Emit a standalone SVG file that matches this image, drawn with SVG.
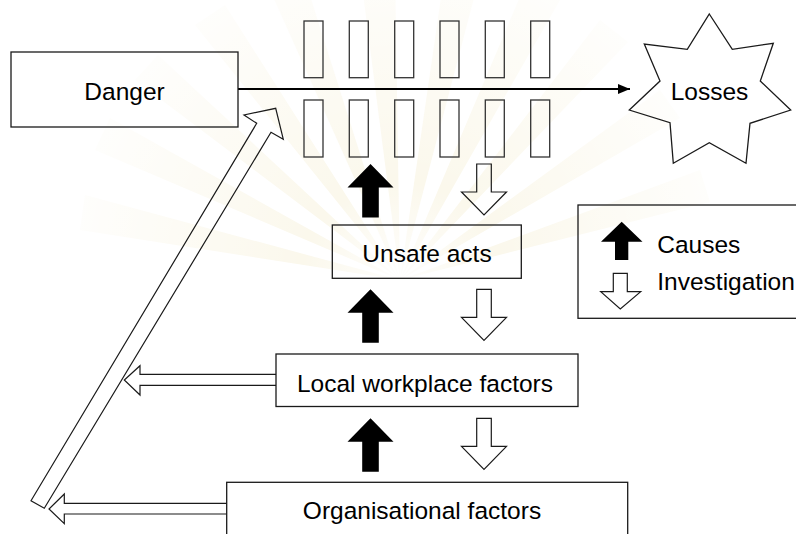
<svg xmlns="http://www.w3.org/2000/svg" width="796" height="534" viewBox="0 0 796 534">
  <style>
    .box { fill: none; stroke: #1a1a1a; stroke-width: 1.3; }
    .slot { fill: none; stroke: #333333; stroke-width: 1.3; }
    .lbl { font-family: "Liberation Sans", Arial, sans-serif; font-size: 24.5px; fill: #000000; }
    .mid { text-anchor: middle; }
    .solid { fill: #000000; stroke: none; }
    .hollow { fill: none; stroke: #1a1a1a; stroke-width: 1.2; stroke-linejoin: miter; }
    .ray { fill: #fbf8ec; }
  </style>
  <defs>
    <marker id="head" markerWidth="12" markerHeight="10" refX="12" refY="5" orient="auto" markerUnits="userSpaceOnUse">
      <path d="M0,0 L12,5 L0,10 Z" fill="#000000"/>
    </marker>
    <radialGradient id="fade" cx="400" cy="280" r="330" gradientUnits="userSpaceOnUse">
      <stop offset="0" stop-color="#ffffff" stop-opacity="0.9"/>
      <stop offset="0.3" stop-color="#ffffff" stop-opacity="0"/>
      <stop offset="1" stop-color="#ffffff" stop-opacity="0.85"/>
    </radialGradient>
    <!-- solid "cause" arrow pointing up, tip at origin -->
    <path id="up" d="M0,0 L23,23.5 L8.3,23.5 L8.3,53.5 L-8.3,53.5 L-8.3,23.5 L-23,23.5 Z"/>
    <!-- hollow "investigation" arrow pointing down, top at origin -->
    <path id="down" d="M-7.3,0 L7.3,0 L7.3,28 L22.5,28 L0,51 L-22.5,28 L-7.3,28 Z"/>
  </defs>

  <rect width="796" height="534" fill="#ffffff"/>

  <!-- faint sunburst backdrop -->
  <g id="backdrop">
    <path class="ray" d="M400,280 L80,230 L85,195 Z"/>
    <path class="ray" d="M400,280 L95,150 L110,118 Z"/>
    <path class="ray" d="M400,280 L135,80 L158,55 Z"/>
    <path class="ray" d="M400,280 L195,25 L225,5 Z"/>
    <path class="ray" d="M400,280 L270,-10 L305,-20 Z"/>
    <path class="ray" d="M400,280 L360,-30 L395,-32 Z"/>
    <path class="ray" d="M400,280 L445,-30 L480,-25 Z"/>
    <path class="ray" d="M400,280 L525,-15 L560,0 Z"/>
    <path class="ray" d="M400,280 L600,20 L628,42 Z"/>
    <path class="ray" d="M400,280 L660,90 L680,118 Z"/>
    <path class="ray" d="M400,280 L700,170 L710,202 Z"/>
    <rect width="796" height="534" fill="url(#fade)"/>
  </g>

  <!-- connectors -->
  <g id="connectors">
    <line x1="238" y1="89" x2="630" y2="89" stroke="#000000" stroke-width="2" marker-end="url(#head)"/>
    <!-- long diagonal feedback arrow -->
    <path class="hollow" d="M31,500.7 L256.7,123.3 L244,115 L275.7,108.3 L283.3,139.3 L271,132.3 L44.3,508.3 Z"/>
    <!-- leftward hollow arrows -->
    <path class="hollow" d="M276,374.3 L140,374.3 L140,365.7 L124.3,380 L140,395 L140,385.3 L276,385.3"/>
    <path class="hollow" d="M226.7,503.3 L64.3,503.3 L64.3,494 L49,509 L64.3,523.7 L64.3,514 L226.7,514"/>
    <!-- cause arrows -->
    <use href="#up" class="solid" x="370.5" y="164"/>
    <use href="#up" class="solid" x="370.5" y="289.3"/>
    <use href="#up" class="solid" x="370.5" y="418.3"/>
    <!-- investigation arrows -->
    <use href="#down" class="hollow" x="484" y="164"/>
    <use href="#down" class="hollow" x="484" y="289.3"/>
    <use href="#down" class="hollow" x="484" y="418.3"/>
  </g>

  <g id="barriers">
    <rect class="slot" x="304" y="21" width="19" height="56.7"/>
    <rect class="slot" x="349.3" y="21" width="19" height="56.7"/>
    <rect class="slot" x="394.7" y="21" width="19" height="56.7"/>
    <rect class="slot" x="440" y="21" width="19" height="56.7"/>
    <rect class="slot" x="485.3" y="21" width="19" height="56.7"/>
    <rect class="slot" x="530.7" y="21" width="19" height="56.7"/>
    <rect class="slot" x="304" y="100" width="19" height="57"/>
    <rect class="slot" x="349.3" y="100" width="19" height="57"/>
    <rect class="slot" x="394.7" y="100" width="19" height="57"/>
    <rect class="slot" x="440" y="100" width="19" height="57"/>
    <rect class="slot" x="485.3" y="100" width="19" height="57"/>
    <rect class="slot" x="530.7" y="100" width="19" height="57"/>
  </g>

  <g id="danger">
    <rect class="box" x="11" y="52" width="227" height="75"/>
    <text class="lbl mid" x="124.5" y="100">Danger</text>
  </g>

  <g id="losses">
    <path class="box" d="M709.3,14 L732.3,49.3 L773.3,43.3 L760.3,81 L790.7,110 L750,123.3 L746,163.3 L709.3,142.7 L673.3,163.3 L670,122.7 L629.3,110 L660,81 L644.3,44 L687.3,49.3 Z"/>
    <text class="lbl mid" x="709.5" y="100">Losses</text>
  </g>

  <g id="unsafe-acts">
    <rect class="box" x="332.3" y="225" width="189" height="53.3"/>
    <text class="lbl mid" x="427" y="262.3">Unsafe acts</text>
  </g>

  <g id="local-factors">
    <rect class="box" x="276" y="354" width="302" height="52.5"/>
    <text class="lbl mid" x="425" y="392">Local workplace factors</text>
  </g>

  <g id="organisational-factors">
    <rect class="box" x="226.7" y="482.3" width="401" height="60"/>
    <text class="lbl mid" x="422" y="518.5">Organisational factors</text>
  </g>

  <g id="legend">
    <rect class="box" x="578" y="205" width="230" height="113.3"/>
    <path class="solid" d="M621.7,221.7 L642.5,241.7 L628.3,241.7 L628.3,260 L615,260 L615,241.7 L601,241.7 Z"/>
    <text class="lbl" x="657.3" y="253.3">Causes</text>
    <path class="hollow" d="M613.3,273.3 L627.3,273.3 L627.3,291.7 L640.7,291.7 L620.3,309 L600.7,291.7 L613.3,291.7 Z"/>
    <text class="lbl" x="657.3" y="290">Investigation</text>
  </g>
</svg>
